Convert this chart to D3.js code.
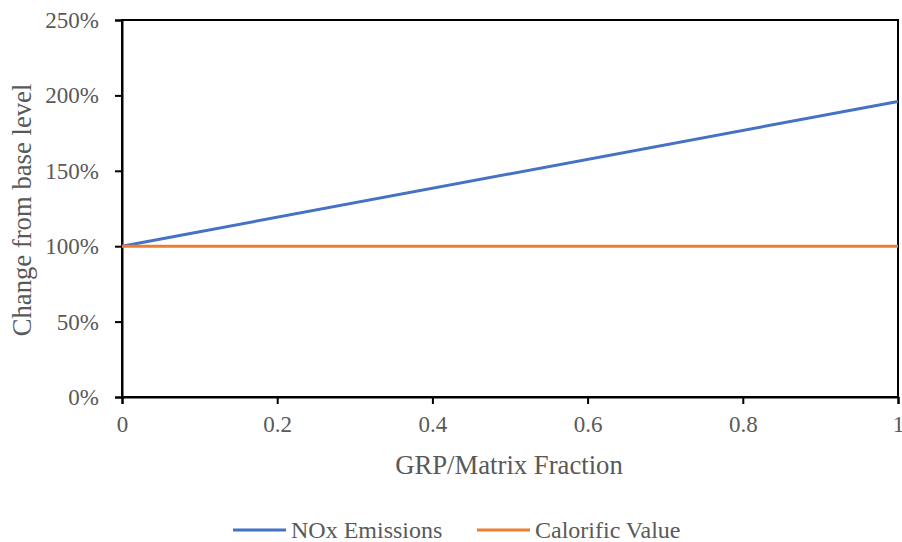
<!DOCTYPE html>
<html>
<head>
<meta charset="utf-8">
<script src="https://cdn.jsdelivr.net/npm/d3@7"></script>
<style>
  html, body { margin: 0; padding: 0; background: #fff; }
  svg { display: block; }
  text { font-family: "Tinos", "Times", "Liberation Serif", serif; fill: #595959; }
</style>
</head>
<body>
<svg id="chart" width="902" height="542"></svg>
<script>
// GRP fraction in the matrix (x) and relative change from the base level (y, %)
const fractions = [0, 1];
const noxEmissions = [100, 196];
const calorificValue = [100, 100];
const seriesNames = ["NOx Emissions", "Calorific Value"];
const seriesColors = ["#4472C4", "#ED7D31"];
const xTicks = [0, 0.2, 0.4, 0.6, 0.8, 1];
const yTicks = [0, 50, 100, 150, 200, 250];

const FONT = "Tinos, Times, 'Liberation Serif', serif";
const svg = d3.select("#chart");
const margin = { left: 122, right: 4, top: 20, bottom: 145 };
const W = 902, H = 542;

const x = d3.scaleLinear().domain([0, 1]).range([margin.left, W - margin.right]);
const y = d3.scaleLinear().domain([0, 250]).range([H - margin.bottom, margin.top]);

// frame around the plot area
svg.append("rect")
  .attr("x", x(0)).attr("y", y(250))
  .attr("width", x(1) - x(0)).attr("height", y(0) - y(250))
  .attr("fill", "none").attr("stroke", "#000").attr("stroke-width", 2);

// axes
const yAxis = svg.append("g")
  .attr("transform", `translate(${x(0)},0)`)
  .call(d3.axisLeft(y).tickValues(yTicks).tickSize(7).tickPadding(16).tickFormat(d => d + "%"));
const xAxis = svg.append("g")
  .attr("transform", `translate(0,${y(0)})`)
  .call(d3.axisBottom(x).tickValues(xTicks).tickSize(7).tickPadding(0).tickFormat(d => d === 0 || d === 1 ? d : d.toFixed(1)));

[yAxis, xAxis].forEach(g => {
  g.attr("font-family", FONT);
  g.select(".domain").attr("stroke", "#000").attr("stroke-width", 2);
  g.selectAll(".tick line").attr("stroke", "#000").attr("stroke-width", 2);
  g.selectAll(".tick text").attr("font-size", 23).attr("fill", "#595959");
});
yAxis.selectAll(".tick text").attr("dy", "0.33em");
xAxis.selectAll(".tick text").attr("dy", null).attr("y", 35);

// series lines
const line = d3.line().x((d, i) => x(fractions[i])).y(d => y(d));
[noxEmissions, calorificValue].forEach((vals, i) => {
  svg.append("path")
    .datum(vals)
    .attr("d", line)
    .attr("fill", "none")
    .attr("stroke", seriesColors[i])
    .attr("stroke-width", 3);
});

// axis titles
svg.append("text")
  .attr("x", 509).attr("y", 474)
  .attr("text-anchor", "middle").attr("font-size", 26.7)
  .text("GRP/Matrix Fraction");
svg.append("text")
  .attr("transform", `translate(31,210) rotate(-90)`)
  .attr("text-anchor", "middle").attr("font-size", 26.7)
  .text("Change from base level");

// legend
const legendItems = [{ x0: 233, x1: 286, tx: 291 }, { x0: 477, x1: 530, tx: 535 }];
legendItems.forEach((p, i) => {
  svg.append("line")
    .attr("x1", p.x0).attr("x2", p.x1)
    .attr("y1", 530).attr("y2", 530)
    .attr("stroke", seriesColors[i]).attr("stroke-width", 3);
  svg.append("text")
    .attr("x", p.tx).attr("y", 538)
    .attr("font-size", 24)
    .text(seriesNames[i]);
});
</script>
</body>
</html>
